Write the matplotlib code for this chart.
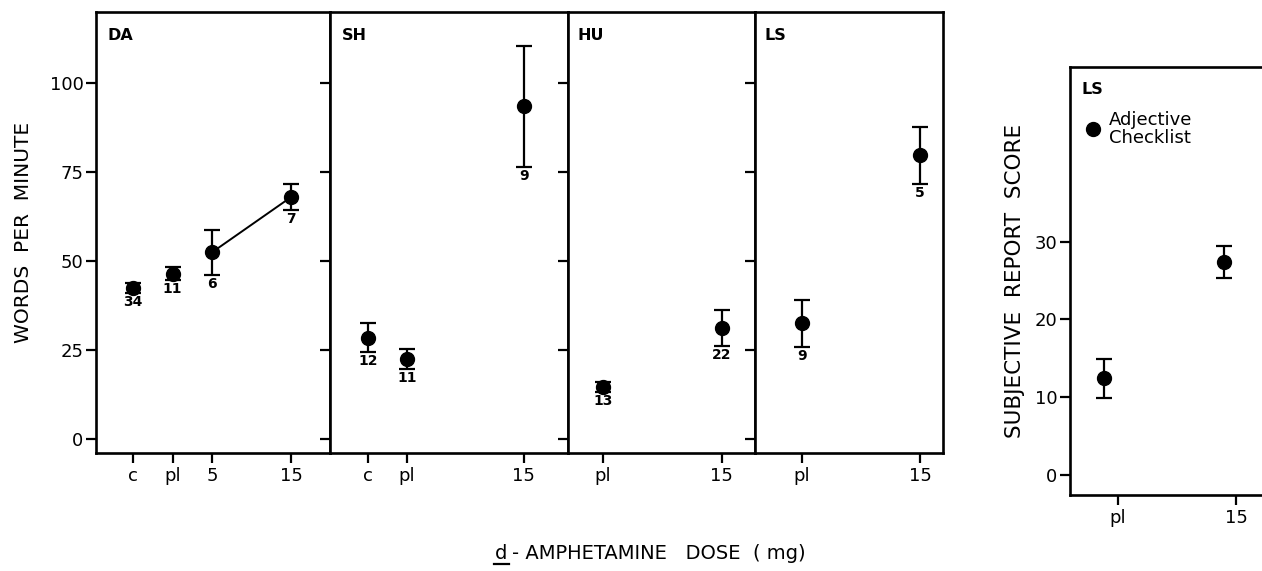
import numpy as np
import matplotlib
matplotlib.use("Agg")
import matplotlib.pyplot as plt
from matplotlib.lines import Line2D

plt.rcParams['font.family'] = ['DejaVu Sans']

# 数据: 每个面板的剂量类别、均值、误差、样本数
da_dose = ["c", "pl", "5", "15"]
da_x = [0, 1, 2, 4]
da_mean = [42.5, 46.5, 52.5, 68.0]
da_err = [1.5, 1.8, 6.3, 3.6]
da_n = ["34", "11", "6", "7"]

sh_dose = ["c", "pl", "15"]
sh_x = [0, 1, 4]
sh_mean = [28.5, 22.5, 93.5]
sh_err = [4.0, 2.8, 17.0]
sh_n = ["12", "11", "9"]

hu_dose = ["pl", "15"]
hu_x = [1, 4]
hu_mean = [14.6, 31.2]
hu_err = [1.4, 5.0]
hu_n = ["13", "22"]

ls_dose = ["pl", "15"]
ls_x = [1, 4]
ls_mean = [32.5, 79.8]
ls_err = [6.5, 8.0]
ls_n = ["9", "5"]

# 主观报告分数 (LS)
score_dose = ["pl", "15"]
score_tick_x = [1, 4]
score_x = [0.65, 3.7]
score_mean = [12.4, 27.4]
score_err = [2.45, 2.05]

fig = plt.figure(figsize=(12.62, 5.71), dpi=100)

panels = [
    ("DA", da_dose, da_x, da_mean, da_err, da_n, [0.0761, 0.2067, 0.1854, 0.772], (-0.94, 4.99)),
    ("SH", sh_dose, sh_x, sh_mean, sh_err, sh_n, [0.2615, 0.2067, 0.1886, 0.772], (-0.97, 5.13)),
    ("HU", hu_dose, hu_x, hu_mean, hu_err, hu_n, [0.4501, 0.2067, 0.1482, 0.772], (0.11, 4.85)),
    ("LS", ls_dose, ls_x, ls_mean, ls_err, ls_n, [0.5983, 0.2067, 0.1490, 0.772], (-0.18, 4.58)),
]

for i, (name, dose, x, m, e, n, pos, xl) in enumerate(panels):
    ax = fig.add_axes(pos)
    ax.errorbar(x, m, yerr=e, fmt='o', color='black', ms=10, capsize=5.5,
                elinewidth=1.6, capthick=1.6)
    if name == "DA":
        ax.plot(x[2:], m[2:], color='black', lw=1.4)
    for xi, mi, ei, ni in zip(x, m, e, n):
        ax.annotate(ni, (xi, mi - ei), xytext=(0, -1.5), textcoords='offset points',
                    ha='center', va='top', fontsize=10, fontweight='bold')
    ax.set_xlim(*xl)
    ax.set_ylim(-3.9, 120)
    ax.set_xticks(x)
    ax.set_xticklabels(dose)
    ax.set_yticks([0, 25, 50, 75, 100])
    ax.tick_params(axis='both', direction='out', length=7, width=1.6, labelsize=13)
    ax.tick_params(axis='x', pad=3)
    ax.tick_params(axis='y', pad=2)
    if i > 0:
        ax.tick_params(axis='y', labelleft=False)
    else:
        ax.set_ylabel("WORDS  PER  MINUTE", fontsize=14.5, labelpad=12)
    for s in ax.spines.values():
        s.set_linewidth(1.9)
    ax.text(0.05, 0.965, name, transform=ax.transAxes, ha='left', va='top',
            fontsize=11.5, fontweight='bold')

# 右侧面板
ax = fig.add_axes([0.8479, 0.1331, 0.1537, 0.7496])
ax.errorbar(score_x, score_mean, yerr=score_err, fmt='o', color='black', ms=10,
            capsize=5.5, elinewidth=1.6, capthick=1.6)
ax.set_xlim(-0.2, 4.7)
ax.set_ylim(-2.6, 52.5)
ax.set_xticks(score_tick_x)
ax.set_xticklabels(score_dose)
ax.set_yticks([0, 10, 20, 30])
ax.tick_params(axis='both', direction='out', length=7, width=1.6, labelsize=13)
ax.tick_params(axis='x', pad=3)
ax.tick_params(axis='y', pad=2)
for s in ax.spines.values():
    s.set_linewidth(1.9)
ax.set_ylabel("SUBJECTIVE  REPORT  SCORE", fontsize=15.5, labelpad=7)
ax.text(0.06, 0.965, "LS", transform=ax.transAxes, ha='left', va='top',
        fontsize=11.5, fontweight='bold')
ax.plot([0.12], [0.855], 'o', color='black', ms=10, transform=ax.transAxes, clip_on=False)
ax.text(0.2, 0.855, "Adjective\nChecklist", transform=ax.transAxes,
        ha='left', va='center', fontsize=13, linespacing=0.95)

# x 轴标题, d 带下划线
fig.text(0.3925, 0.014, "d", ha='left', va='bottom', fontsize=14)
fig.text(0.406, 0.014, "- AMPHETAMINE   DOSE  ( mg)", ha='left', va='bottom', fontsize=14)
fig.add_artist(Line2D([0.3915, 0.4035], [0.012, 0.012], color='black', lw=1.6,
                      transform=fig.transFigure))

fig.savefig("out.png", dpi=100)
